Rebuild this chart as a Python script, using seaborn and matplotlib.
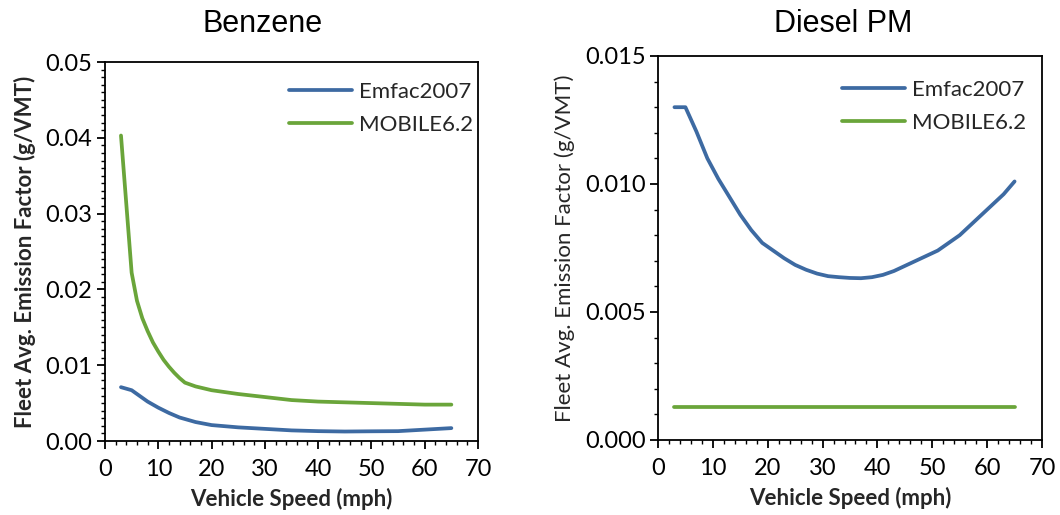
import matplotlib
matplotlib.use("Agg")
import matplotlib.pyplot as plt
import seaborn as sns
from matplotlib.ticker import MultipleLocator, FormatStrFormatter

# ---- data ----
benz_emfac_speed = [3, 5, 6, 7, 8, 9, 10, 12, 14, 15, 17, 20, 25, 30, 35, 40, 45, 50, 55, 60, 65]
benz_emfac = [0.0071, 0.0067, 0.0062, 0.0057, 0.0052, 0.0048, 0.0044, 0.0037, 0.0031, 0.0029,
              0.0025, 0.0021, 0.0018, 0.0016, 0.0014, 0.0013, 0.00125, 0.00128, 0.0013, 0.0015, 0.0017]
benz_mobile_speed = [3, 5, 6, 7, 8, 9, 10, 11, 12, 13, 14, 15, 17, 20, 25, 30, 35, 40, 45, 50, 55, 60, 65]
benz_mobile = [0.0403, 0.0222, 0.0185, 0.0162, 0.0145, 0.0130, 0.0118, 0.0107, 0.0098, 0.0090,
               0.0083, 0.0077, 0.0072, 0.0067, 0.0062, 0.0058, 0.0054, 0.0052, 0.0051, 0.0050,
               0.0049, 0.0048, 0.0048]
dpm_emfac_speed = [3, 5, 7, 9, 11, 13, 15, 17, 19, 21, 23, 25, 27, 29, 31, 33, 35, 37, 39, 41,
                   43, 45, 47, 49, 51, 53, 55, 57, 59, 61, 63, 65]
dpm_emfac = [0.0130, 0.0130, 0.01205, 0.0110, 0.0102, 0.0095, 0.0088, 0.0082, 0.0077, 0.0074,
             0.0071, 0.00684, 0.00665, 0.0065, 0.0064, 0.00636, 0.00633, 0.00632, 0.00636, 0.00645,
             0.0066, 0.0068, 0.0070, 0.0072, 0.0074, 0.0077, 0.0080, 0.0084, 0.0088, 0.0092,
             0.0096, 0.0101]
dpm_mobile_speed = [3, 65]
dpm_mobile = [0.0013, 0.0013]

titles = ["Benzene", "Diesel PM"]
series_names = ["Emfac2007", "MOBILE6.2"]
xlabel = "Vehicle Speed (mph)"
ylabel = "Fleet Avg. Emission Factor (g/VMT)"

BLUE = "#3d6aa2"
GREEN = "#6aa53a"

sns.set_theme(style="white")
plt.rcParams["font.family"] = ["Lato", "DejaVu Sans"]

fig = plt.figure(figsize=(10.6, 5.15), dpi=100)
W, H = 1060, 515
ax1 = fig.add_axes([105 / W, (H - 441) / H, 373 / W, 379 / H])
ax2 = fig.add_axes([658 / W, (H - 440) / H, 384 / W, 384 / H])

LW = 2.7
sns.lineplot(x=benz_emfac_speed, y=benz_emfac, ax=ax1, color=BLUE, lw=LW, label=series_names[0])
sns.lineplot(x=benz_mobile_speed, y=benz_mobile, ax=ax1, color=GREEN, lw=LW, label=series_names[1])
sns.lineplot(x=dpm_emfac_speed, y=dpm_emfac, ax=ax2, color=BLUE, lw=LW, label=series_names[0])
sns.lineplot(x=dpm_mobile_speed, y=dpm_mobile, ax=ax2, color=GREEN, lw=LW, label=series_names[1])

cfg = [
    (ax1, 0.05, 0.01, 0.001, "%.2f", "bold", 263, (1 + 11 / 373, 1 - 4 / 379)),
    (ax2, 0.015, 0.005, 0.001, "%.3f", "normal", 843, (1.0, 1 - 8 / 384)),
]
for (ax, ymax, ymaj, ymin, fmt, yw, tx, anchor), title in zip(cfg, titles):
    ax.set_xlim(0, 70)
    ax.set_ylim(0, ymax)
    ax.xaxis.set_major_locator(MultipleLocator(10))
    ax.xaxis.set_minor_locator(MultipleLocator(2))
    ax.yaxis.set_major_locator(MultipleLocator(ymaj))
    ax.yaxis.set_minor_locator(MultipleLocator(ymin))
    ax.yaxis.set_major_formatter(FormatStrFormatter(fmt))
    ax.tick_params(which="major", direction="out", length=6, width=1.3, labelsize=17,
                   colors="black", bottom=True, left=True, pad=3)
    ax.tick_params(axis="x", which="major", pad=7)
    ax.tick_params(which="minor", direction="out", length=3, width=1.0,
                   colors="black", bottom=True, left=True)
    for sp in ax.spines.values():
        sp.set_color("black")
        sp.set_linewidth(1.3)
    ax.set_xlabel(xlabel, fontsize=16, fontweight="bold", labelpad=6)
    ax.set_ylabel(ylabel, fontsize=16, fontweight=yw, labelpad=7)
    fig.text(tx / W, 1 - 24 / H, title, fontsize=22, ha="center", va="center",
             family=["Liberation Sans", "DejaVu Sans"], color="black")
    ax.legend(loc="upper right", bbox_to_anchor=anchor, frameon=False, fontsize=16,
              handlelength=2.8, handletextpad=0.35, labelspacing=0.6, borderaxespad=0.3)

fig.savefig("out.png", dpi=100, facecolor="white")
